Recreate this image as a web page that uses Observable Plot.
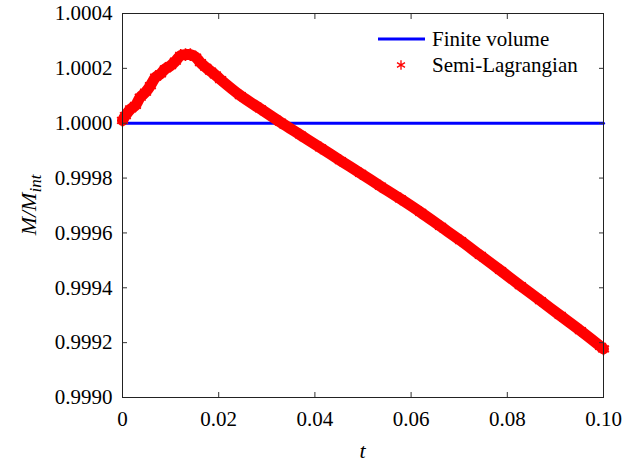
<!DOCTYPE html>
<html><head><meta charset="utf-8">
<script src="https://cdn.jsdelivr.net/npm/d3@7"></script>
<script src="https://cdn.jsdelivr.net/npm/@observablehq/plot@0.6"></script>
<style>body{margin:0;background:#fff}#chart{width:622px;height:464px}svg text{font-family:'Liberation Serif','Times New Roman',serif}</style>
</head><body><div id="chart"></div>
<script>
const tSL = [0, 0.0006, 0.0017, 0.0027, 0.0037, 0.0048, 0.0058, 0.0069, 0.0079, 0.0089, 0.0100, 0.0110, 0.0121, 0.0131, 0.0141, 0.0152, 0.0162, 0.0173, 0.0183, 0.0193, 0.0204, 0.0245, 0.0287, 0.0328, 0.0370, 0.0412, 0.0453, 0.0495, 0.0536, 0.0578, 0.0620, 0.0661, 0.0703, 0.0744, 0.0786, 0.0827, 0.0869, 0.0910, 0.0952, 0.0994, 0.1000];
const mSL = [1.000010, 1.000028, 1.000052, 1.000065, 1.000095, 1.000113, 1.000137, 1.000168, 1.000180, 1.000198, 1.000210, 1.000226, 1.000247, 1.000250, 1.000250, 1.000241, 1.000221, 1.000204, 1.000190, 1.000176, 1.000159, 1.000101, 1.000052, 1.000004, 0.999957, 0.999910, 0.999864, 0.999817, 0.999771, 0.999724, 0.999675, 0.999624, 0.999572, 0.999518, 0.999463, 0.999408, 0.999353, 0.999299, 0.999244, 0.999186, 0.999177];
const tFV = [0, 0.1];
const mFV = [1.0, 1.0];
const xTicks = [0, 0.02, 0.04, 0.06, 0.08, 0.10];
const xTickLabels = ["0", "0.02", "0.04", "0.06", "0.08", "0.10"];
const yTicks = [0.9990, 0.9992, 0.9994, 0.9996, 0.9998, 1.0000, 1.0002, 1.0004];
const yTickLabels = ["0.9990", "0.9992", "0.9994", "0.9996", "0.9998", "1.0000", "1.0002", "1.0004"];
const seriesNames = ["Finite volume", "Semi-Lagrangian"];
const seriesColors = ["#0000ff", "#ff0000"];

const sl = tSL.map((t, i) => ({t, m: mSL[i]}));
const fv = tFV.map((t, i) => ({t, m: mFV[i]}));
const lab = (ticks, labels) => d => labels[ticks.findIndex(v => Math.abs(v - d) < 1e-9)];
const FONT = "'Liberation Serif', 'Times New Roman', serif";

const W = 622, H = 464, mL = 122, mR = 19, mT = 13, mB = 67;
const plot = Plot.plot({
  width: W, height: H,
  marginLeft: mL, marginRight: mR, marginTop: mT, marginBottom: mB,
  style: {fontFamily: FONT, fontSize: "21px", background: "#fff", color: "#000"},
  x: {domain: [0, 0.1]},
  y: {domain: [0.9990, 1.0004]},
  marks: [
    Plot.line(fv, {x: "t", y: "m", stroke: seriesColors[0], strokeWidth: 3}),
    Plot.line(sl, {x: "t", y: "m", stroke: seriesColors[1], strokeWidth: 11, strokeLinejoin: "round", strokeLinecap: "round", curve: "catmull-rom"}),
    Plot.dot(sl, {x: "t", y: "m", symbol: "asterisk", r: 6, stroke: seriesColors[1], strokeWidth: 1.6}),
    Plot.axisX({ticks: xTicks, tickFormat: lab(xTicks, xTickLabels), tickSize: -5, tickPadding: 19, label: null, stroke: "#333"}),
    Plot.axisX({anchor: "top", ticks: xTicks, tickFormat: () => "", tickSize: -5, label: null, stroke: "#333"}),
    Plot.axisY({ticks: yTicks, tickFormat: lab(yTicks, yTickLabels), tickSize: -5, tickPadding: 15, label: null, stroke: "#333"}),
    Plot.axisY({anchor: "right", ticks: yTicks, tickFormat: () => "", tickSize: -5, label: null, stroke: "#333"}),
    Plot.frame({stroke: "#222", strokeWidth: 1})
  ]
});
document.getElementById("chart").appendChild(plot);

const svg = d3.select(plot);
// axis titles
const yl = svg.append("text")
  .attr("transform", `translate(36,${(mT + H - mB) / 2}) rotate(-90)`)
  .attr("text-anchor", "middle")
  .style("font-family", FONT).style("font-size", "22px").style("font-style", "italic").attr("fill", "#000");
yl.append("tspan").text("M/M");
yl.append("tspan").attr("dy", 5).style("font-size", "17px").text("int");

svg.append("text")
  .attr("x", mL + (W - mL - mR) / 2).attr("y", 458)
  .attr("text-anchor", "middle")
  .style("font-family", FONT).style("font-size", "22px").style("font-style", "italic").attr("fill", "#000")
  .text("t");

// legend
const lg = svg.append("g").style("font-family", FONT).style("font-size", "21px").attr("text-anchor", "start");
lg.append("line").attr("x1", 378).attr("x2", 425).attr("y1", 39).attr("y2", 39).attr("stroke", seriesColors[0]).attr("stroke-width", 3);
lg.append("path").attr("d", d3.symbol(d3.symbolAsterisk, 60)()).attr("transform", "translate(401,65)").attr("stroke", seriesColors[1]).attr("fill", "none").attr("stroke-width", 1.3);
lg.append("text").attr("x", 432).attr("y", 46).attr("text-anchor", "start").attr("fill", "#000").text(seriesNames[0]);
lg.append("text").attr("x", 432).attr("y", 72).attr("text-anchor", "start").attr("fill", "#000").text(seriesNames[1]);
</script></body></html>
